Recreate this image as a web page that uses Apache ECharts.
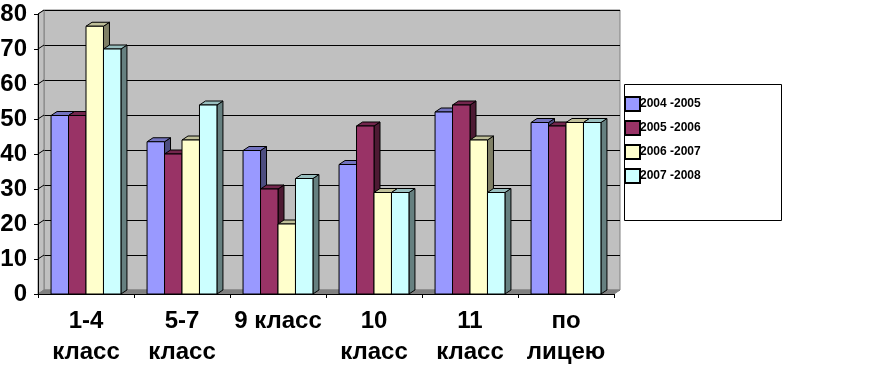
<!DOCTYPE html>
<html>
<head>
<meta charset="utf-8">
<style>html,body{margin:0;padding:0;background:#fff}#chart{width:872px;height:391px}</style>
<script src="https://cdn.jsdelivr.net/npm/echarts@6/dist/echarts.min.js"></script>
</head>
<body>
<div id="chart"></div>
<script>
var categories = ['1-4\nкласс', '5-7\nкласс', '9 класс', '10\nкласс', '11\nкласс', 'по\nлицею'];
var seriesNames = ['2004 -2005', '2005 -2006', '2006 -2007', '2007 -2008'];
var values2004 = [51, 43.5, 41, 37, 52, 49];
var values2005 = [51, 40, 30, 48, 54, 48];
var values2006 = [76.5, 44, 20, 29, 44, 49];
var values2007 = [70, 54, 33, 29, 29, 49];
var allValues = [values2004, values2005, values2006, values2007];
var colors = ['#9999ff', '#993366', '#ffffcc', '#ccffff'];
var yTicks = [0, 10, 20, 30, 40, 50, 60, 70, 80];

// 3d depth of the plot, in px
var dx = 6, dy = -4;
var font = '"Liberation Sans", Arial, sans-serif';

function shade(hex, k) {
  var n = parseInt(hex.slice(1), 16);
  var r = Math.round((n >> 16 & 255) * k);
  var g = Math.round((n >> 8 & 255) * k);
  var b = Math.round((n & 255) * k);
  return 'rgb(' + r + ',' + g + ',' + b + ')';
}

function poly(points, fill, stroke) {
  return {
    type: 'polygon',
    shape: { points: points },
    style: { fill: fill, stroke: stroke, lineWidth: 1 }
  };
}

// side wall, floor and the short grid segments on the side wall
function renderWalls(params, api) {
  var o = api.coord([0, 0]);
  var catW = api.size([1, 0])[0];
  var left = o[0] - catW / 2;
  var right = left + catW * categories.length;
  var topY = api.coord([0, 80])[1];
  var kids = [
    poly([[left, o[1]], [left + dx, o[1] + dy], [left + dx, topY + dy], [left, topY]], '#c0c0c0', '#808080'),
    poly([[left, o[1]], [right, o[1]], [right + dx, o[1] + dy], [left + dx, o[1] + dy]], '#808080', '#808080')
  ];
  yTicks.forEach(function (t) {
    if (t == 0) return;
    var y = api.coord([0, t])[1];
    kids.push({
      type: 'line',
      shape: { x1: left, y1: y, x2: left + dx, y2: y + dy },
      style: { stroke: '#000', lineWidth: 1 }
    });
  });
  return { type: 'group', children: kids };
}

function renderBar(seriesIndex) {
  return function (params, api) {
    var catW = api.size([1, 0])[0];
    var barW = catW * 0.182;
    var start = api.coord([api.value(0), 0]);
    var top = api.coord([api.value(0), api.value(1)]);
    var x0 = start[0] - barW * 2 + barW * seriesIndex;
    var x1 = x0 + barW;
    var color = colors[seriesIndex];
    return {
      type: 'group',
      children: [
        poly([[x1, top[1]], [x1 + dx, top[1] + dy], [x1 + dx, start[1] + dy], [x1, start[1]]], shade(color, 0.5), '#000'),
        poly([[x0, top[1]], [x0 + dx, top[1] + dy], [x1 + dx, top[1] + dy], [x1, top[1]]], shade(color, 0.75), '#000'),
        poly([[x0, top[1]], [x1, top[1]], [x1, start[1]], [x0, start[1]]], color, '#000')
      ]
    };
  };
}

var series = [{
  type: 'custom',
  name: 'walls',
  xAxisIndex: 0,
  yAxisIndex: 0,
  silent: true,
  z: 1,
  data: [[0, 0]],
  renderItem: renderWalls
}];
allValues.forEach(function (vals, i) {
  series.push({
    type: 'custom',
    name: seriesNames[i],
    xAxisIndex: 0,
    yAxisIndex: 0,
    z: 2 + i,
    itemStyle: { color: colors[i], borderColor: '#000', borderWidth: 1 },
    data: vals.map(function (v, c) { return [c, v]; }),
    renderItem: renderBar(i),
    encode: { x: 0, y: 1 }
  });
});

var chart = echarts.init(document.getElementById('chart'), null, { renderer: 'canvas' });
chart.setOption({
  animation: false,
  backgroundColor: '#fff',
  graphic: [{
    type: 'rect',
    z: 0,
    shape: { x: 624.5, y: 84.5, width: 157, height: 136 },
    style: { fill: '#fff', stroke: '#000', lineWidth: 1 }
  }],
  legend: {
    data: seriesNames,
    icon: 'rect',
    orient: 'vertical',
    left: 624,
    top: 96,
    padding: 0,
    itemWidth: 15,
    itemHeight: 14,
    itemGap: 8,
    textStyle: { fontFamily: font, fontWeight: 'bold', fontSize: 12, color: '#000', padding: [0, 0, 0, -5] }
  },
  grid: [
    { left: 38, top: 14, width: 576, height: 280, outerBoundsMode: 'none' },
    // back wall, same scale shifted by the depth
    { left: 38 + dx, top: 14 + dy, width: 576, height: 280, outerBoundsMode: 'none', show: true, backgroundColor: '#c0c0c0', borderColor: '#808080', borderWidth: 1 }
  ],
  xAxis: [{
    type: 'category',
    gridIndex: 0,
    data: categories,
    z: 10,
    axisLine: { show: true, lineStyle: { color: '#000' } },
    axisTick: { show: true, alignWithLabel: false, length: 4, lineStyle: { color: '#000' } },
    axisLabel: { interval: 0, margin: 12, fontFamily: font, fontWeight: 'bold', fontSize: 24, lineHeight: 31, color: '#000' },
    splitLine: { show: false }
  }, {
    type: 'category',
    gridIndex: 1,
    data: categories,
    axisLine: { show: false },
    axisTick: { show: false },
    axisLabel: { show: false },
    splitLine: { show: false }
  }],
  yAxis: [{
    type: 'value',
    gridIndex: 0,
    min: 0,
    max: 80,
    interval: 10,
    z: 10,
    axisLine: { show: true, lineStyle: { color: '#000' } },
    axisTick: { show: true, length: 4, lineStyle: { color: '#000' } },
    axisLabel: { margin: 11, padding: [4, 0, 0, 0], fontFamily: font, fontWeight: 'bold', fontSize: 24, color: '#000' },
    splitLine: { show: false }
  }, {
    type: 'value',
    gridIndex: 1,
    min: 0,
    max: 80,
    interval: 10,
    axisLine: { show: false },
    axisTick: { show: false },
    axisLabel: { show: false },
    splitLine: { show: true, lineStyle: { color: '#000', width: 1 } }
  }],
  series: series
});
</script>
</body>
</html>
